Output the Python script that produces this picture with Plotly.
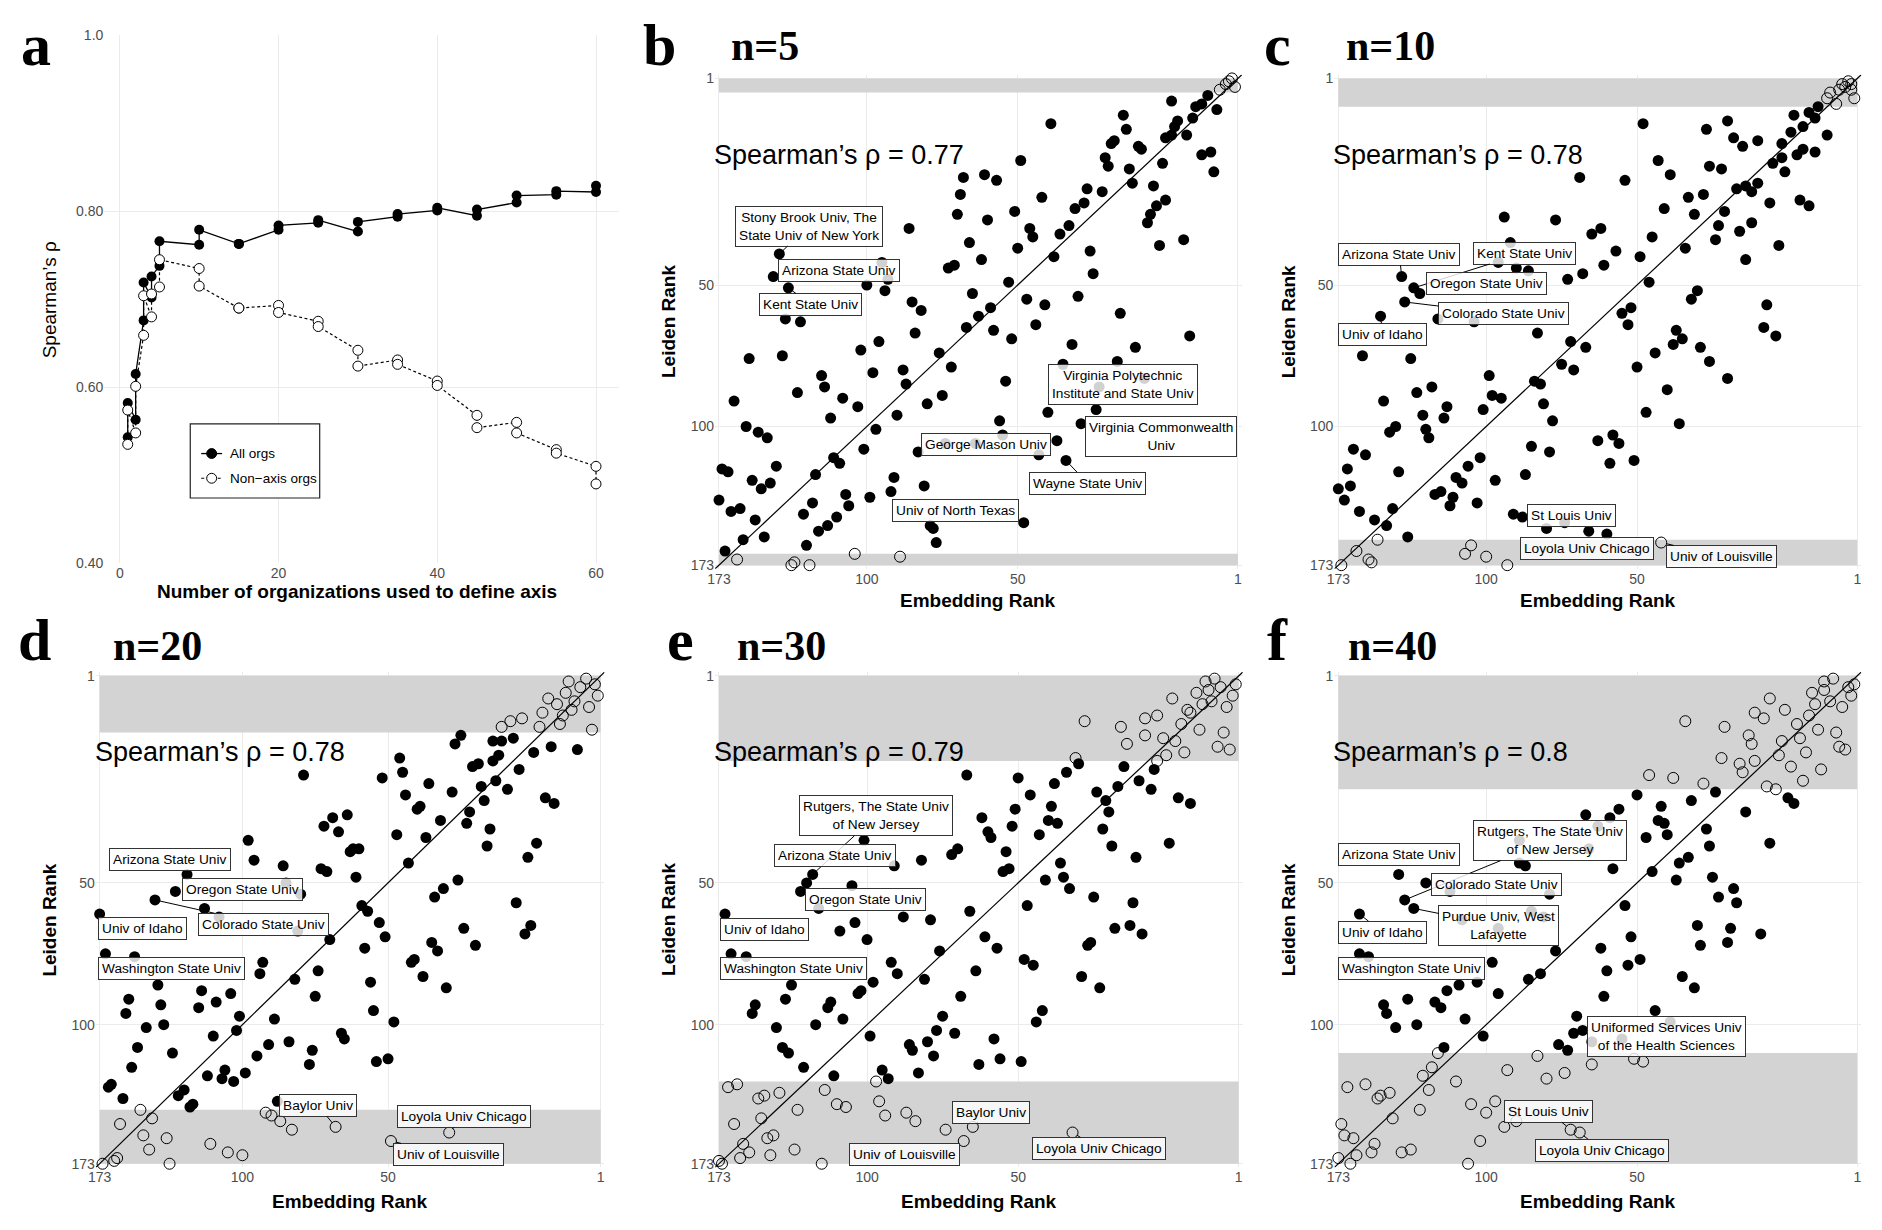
import plotly.graph_objects as go

W, H = 1882, 1230
OFF = 8                      # default page margin of the html body
FW, FH = W - OFF, H - OFF    # figure size so that the page is exactly the window
PAD = 1.3

# ---------------- panel a data ----------------
n_used = [1, 1, 2, 2, 3, 3, 4, 4, 5, 5, 10, 10, 15, 15, 20, 20, 25, 25, 30, 30,
          35, 35, 40, 40, 45, 45, 50, 50, 55, 55, 60, 60]
rho_all = [0.543, 0.582, 0.563, 0.615, 0.676, 0.719, 0.702, 0.726, 0.738, 0.766,
           0.762, 0.779, 0.763, 0.763, 0.779, 0.784, 0.787, 0.790, 0.777, 0.788,
           0.794, 0.797, 0.801, 0.804, 0.795, 0.802, 0.810, 0.818, 0.819, 0.823,
           0.822, 0.829]
rho_nonaxis = [0.535, 0.574, 0.548, 0.601, 0.659, 0.704, 0.680, 0.706, 0.714, 0.745,
               0.735, 0.715, 0.690, 0.690, 0.693, 0.685, 0.675, 0.669, 0.642, 0.624,
               0.631, 0.626, 0.607, 0.602, 0.568, 0.554, 0.560, 0.548, 0.529, 0.525,
               0.510, 0.490]
legend_names = ['All orgs', 'Non\u2212axis orgs']

# ---------------- scatter panels: (embedding rank, Leiden rank) ----------------
b_other = [(23,9),(11,7),(15,11),(13,10),(8,12),(39,14),(21,16),(16,15),(63,17),(38,19),
           (23,21),(22,18),(18,21),(25,22),(42,23),(43,24),(34,25),(33,26),(45,29),(44,32),
           (73,30),(13,28),(10,27),(9,34),(26,31),(37,33),(36,38),(29,39),(25,44),(28,46),
           (30,49),(31,52),(27,60),(19,58),(46,41),(51,40),(66,43),(52,45),(55,47),(57,53),
           (60,56),(62,64),(50,62),(49,70),(54,78),(70,54),(69,57),(74,61),(75,48),(92,36),
           (85,35),(81,37),(93,42),(94,49),(84,51),(110,54),(90,59),(86,65),(97,68),(95,67),
           (77,73),(89,77),(71,79),(65,81),(83,82),(87,85),(68,88),(82,90),(91,89),(76,93),
           (56,95),(40,84),(35,96),(17,92),(41,101),(59,102),(78,108),(100,98),(96,103),(108,91),
           (109,80),(106,83),(126,97),(120,94),(152,99),(163,100),(112,104),(111,109),(122,105),(139,106),
           (138,110),(147,112),(132,114),(127,117),(168,115),(136,121),(114,120),(104,116),(99,113),(64,119),
           (48,118),(80,122),(79,127),(53,123),(61,129),(58,136),(67,134),(88,130),(98,130),(107,133),
           (121,125),(125,132),(135,135),(133,137),(154,138),(164,124),(160,126),(157,128),(172,139),(170,140),
           (162,143),(159,146),(156,144),(141,141),(115,142),(116,147),(105,145),(123,149),(131,148),(130,152),
           (142,151),(145,155),(173,150),(169,154),(166,153),(161,157),(158,163),(165,164),(171,168),(144,166),
           (140,161),(137,159),(134,156),(103,159),(102,160),(101,165),(72,158),(153,63),(155,71),(150,75),
           (151,86),(146,87),(124,74),(119,66),(118,76),(117,72),(47,110),(32,107)]
b_axis = [(7,5),(5,3),(3,1),(2,4),(4,2),(167,171),(148,172),(149,173),(143,173),(128,169),(113,170)]

c_other = [(22,14),(17,13),(15,15),(14,11),(19,18),(23,20),(26,24),(11,21),(15,27),(19,26),
           (21,28),(26,29),(29,31),(25,34),(20,44),(17,46),(30,45),(34,23),(39,25),(42,22),
           (44,16),(51,19),(72,17),(67,30),(63,35),(50,32),(46,33),(41,40),(38,39),(36,41),
           (34,38),(52,42),(57,43),(65,47),(55,49),(45,48),(47,53),(48,58),(40,55),(36,52),
           (27,60),(38,65),(58,61),(69,57),(73,64),(70,73),(81,62),(85,67),(86,54),(89,56),
           (92,70),(97,72),(93,36),(78,37),(101,51),(118,50),(116,59),(120,66),(114,68),(110,69),
           (152,71),(148,75),(146,77),(151,80),(159,85),(140,86),(128,87),(107,91),(96,94),(91,96),
           (79,84),(76,82),(77,88),(61,90),(59,93),(62,95),(53,96),(56,79),(54,76),(31,81),
           (32,89),(28,92),(68,98),(74,103),(50,101),(44,107),(64,111),(71,119),(60,123),(99,102),
           (95,104),(108,108),(106,109),(105,116),(102,122),(109,131),(103,133),(111,141),(87,129),(82,127),
           (80,130),(83,137),(75,136),(123,106),(122,113),(119,114),(125,118),(126,135),(121,143),(130,138),
           (134,142),(132,144),(127,151),(135,149),(136,152),(139,147),(141,148),(165,99),(149,100),(147,112),
           (142,110),(158,115),(137,117),(138,121),(145,120),(144,125),(143,128),(154,124),(156,126),(168,132),
           (164,134),(170,139),(153,140),(169,145),(173,146),(171,150),(166,154),(161,157),(157,159),(155,153),
           (150,163),(115,155),(112,156),(104,160),(98,158),(90,161),(84,162)]
c_axis = [(4,2),(3,3),(6,3),(10,6),(7,5),(11,8),(8,10),(2,8),(3,5),(5,4),
          (172,173),(167,168),(163,171),(162,172),(160,164),(131,169),(129,166),(124,170),(117,173),(66,165)]

d_other = [(51,25),(49,22),(38,24),(35,24),(31,23),(24,28),(18,26),(9,27),(45,33),(43,32),
           (38,31),(36,29),(29,34),(37,38),(33,41),(42,40),(52,42),(41,45),(46,49),(47,53),
           (20,44),(17,46),(39,55),(40,61),(26,65),(23,60),(70,30),(69,35),(76,37),(68,43),
           (60,39),(64,48),(63,47),(56,52),(61,58),(71,57),(67,67),(50,73),(55,76),(58,79),
           (88,50),(93,51),(91,56),(96,54),(97,69),(95,70),(87,63),(86,62),(84,62),(85,72),
           (103,36),(110,68),(109,74),(104,78),(122,59),(120,66),(143,71),(147,77),(154,80),(137,83),
           (132,86),(173,85),(83,82),(81,84),(77,88),(75,93),(94,94),(82,97),(105,91),(171,99),
           (161,100),(59,95),(57,98),(48,90),(44,96),(30,81),(25,89),(27,92),(65,101),(66,102),
           (62,107),(54,111),(117,102),(118,106),(98,105),(106,108),(80,109),(153,110),(138,112),(128,113),
           (163,115),(152,117),(133,116),(99,114),(164,120),(139,118),(125,121),(113,122),(79,119),(72,123),
           (157,125),(151,124),(126,126),(134,128),(90,127),(89,129),(160,132),(115,131),(108,130),(100,133),
           (148,134),(119,135),(78,137),(74,136),(101,138),(162,139),(136,142),(130,140),(123,141),(131,143),
           (127,144),(170,146),(169,145),(165,150),(146,149),(144,147),(142,153),(141,152),(112,151)]
d_axis = [(6,2),(3,4),(12,3),(8,5),(13,7),(10,10),(19,9),(16,11),(11,13),(5,12),
          (2,8),(4,20),(15,18),(21,14),(14,15),(22,19),(28,16),(32,17),(35,19),
          (172,173),(168,172),(167,171),(159,154),(166,159),(158,163),(156,168),(155,157),(150,164),(149,173),
          (135,166),(129,169),(124,170),(116,155),(114,156),(111,158),(107,161),(92,160),(73,165),(53,162)]

e_other = [(54,32),(58,35),(62,39),(39,33),(29,34),(34,38),(30,41),(41,40),(48,42),(45,45),
           (44,49),(46,55),(43,61),(35,65),(24,60),(21,44),(17,46),(91,36),(74,37),(70,43),
           (63,47),(75,48),(64,52),(61,53),(76,54),(86,51),(84,56),(83,58),(67,57),(94,62),
           (96,64),(78,63),(60,67),(79,70),(77,69),(59,72),(65,73),(57,76),(106,66),(125,59),
           (115,68),(142,71),(144,74),(146,77),(129,75),(140,83),(112,86),(103,87),(90,84),(71,82),
           (49,79),(36,81),(42,90),(37,89),(33,92),(51,96),(50,95),(53,107),(47,111),(85,93),
           (81,97),(72,101),(69,103),(88,105),(100,98),(116,102),(114,106),(105,108),(93,114),(122,109),
           (126,112),(127,113),(171,85),(133,91),(128,88),(124,94),(169,99),(164,100),(149,110),(151,115),
           (161,117),(162,120),(154,125),(136,116),(137,118),(132,122),(141,124),(123,128),(99,121),(101,126),
           (95,127),(104,130),(110,131),(109,133),(82,129),(80,136),(87,138),(73,137),(68,123),(66,119),
           (102,135),(107,141),(119,140),(117,143),(135,142),(145,139),(152,132),(150,134)]
e_axis = [(9,2),(12,3),(11,6),(7,5),(2,4),(3,8),(15,7),(13,11),(10,10),(18,13),
          (17,14),(20,18),(23,9),(28,15),(32,16),(40,19),(52,17),(38,25),(32,22),(26,23),
          (22,24),(19,28),(25,29),(28,31),(14,20),(6,21),(8,26),(4,27),(5,12),(55,30),
          (173,172),(172,173),(170,146),(167,145),(168,159),(166,171),(165,166),(163,169),(160,150),(158,149),
          (159,157),(157,164),(155,163),(156,170),(153,148),(148,168),(147,154),(139,173),(138,147),(134,152),
          (131,153),(121,144),(120,151),(118,156),(111,155),(108,158),(98,161),(92,165),(89,160),(56,162)]

f_other = [(74,43),(80,48),(83,51),(91,50),(56,45),(48,42),(66,47),(67,52),(65,53),(71,58),
           (64,57),(51,55),(50,61),(57,65),(60,67),(61,73),(69,70),(82,69),(49,72),(47,79),
           (42,76),(41,81),(24,44),(22,46),(38,49),(30,60),(33,92),(44,95),(43,90),(54,89),
           (53,96),(59,107),(55,111),(78,82),(76,93),(73,101),(77,103),(86,97),(84,105),(85,114),
           (68,119),(94,121),(92,126),(95,127),(100,131),(97,133),(101,98),(106,106),(110,108),(120,113),
           (122,102),(127,109),(125,128),(138,132),(131,122),(133,110),(137,112),(139,118),(141,116),(150,115),
           (147,124),(154,125),(158,117),(157,120),(153,71),(151,80),(148,83),(144,74),(136,77),(166,85),
           (166,99),(163,100),(103,78),(111,68),(113,67),(63,123),(89,130),(79,129),(132,87),(120,90),
           (109,84),(105,86),(113,59),(90,62),(87,54)]
f_axis = [(9,2),(12,3),(12,6),(16,7),(10,10),(15,11),(6,12),(4,5),(2,4),(3,8),
          (30,9),(25,13),(35,14),(32,16),(17,15),(21,18),(20,23),(26,24),(14,20),(8,21),
          (7,26),(5,27),(18,28),(27,29),(23,33),(13,34),(19,38),(28,41),(31,40),(35,31),
          (40,32),(39,35),(46,30),(52,39),(45,19),(58,17),(37,22),(36,25),(70,36),(62,37),
          (172,159),(171,163),(168,164),(173,171),(169,173),(167,170),(170,146),(164,145),(162,169),(161,166),
          (160,150),(159,149),(156,148),(155,157),(152,169),(149,168),(146,154),(145,142),(143,147),(142,139),
          (140,134),(134,144),(130,173),(129,152),(126,165),(124,155),(121,151),(118,160),(117,140),(114,158),
          (107,135),(104,143),(98,141),(96,161),(93,162),(89,138),(75,136),(72,137)]

panel_keys = ['b', 'c', 'd', 'e', 'f']
n_axis_orgs = [5, 10, 20, 30, 40]
spearman_text = ['0.77', '0.78', '0.78', '0.79', '0.8']
other_pts = [b_other, c_other, d_other, e_other, f_other]
axis_pts = [b_axis, c_axis, d_axis, e_axis, f_axis]

rank_tick_pos = [1, 74, 124, 173]
rank_tick_text = ['1', '50', '100', '173']

# labels: text, label x, label y, point the leader line goes to (or None)
labels = {
    'b': [("Stony Brook Univ, The<br>State Univ of New York", 143.3, 53.2, (153, 63)),
          ("Arizona State Univ", 133.1, 69.0, None),
          ("Kent State Univ", 142.6, 80.9, (150, 75)),
          ("Virginia Polytechnic<br>Institute and State Univ", 39.2, 109.0, None),
          ("Virginia Commonwealth<br>Univ", 26.5, 127.5, None),
          ("George Mason Univ", 84.6, 130.5, None),
          ("Wayne State Univ", 50.9, 144.0, (58, 136)),
          ("Univ of North Texas", 94.7, 153.7, None)],
    'c': [("Arizona State Univ", 152.8, 63.1, (152, 71)),
          ("Kent State Univ", 111.2, 62.7, (148, 75)),
          ("Oregon State Univ", 123.8, 73.6, None),
          ("Colorado State Univ", 118.2, 84.2, (151, 80)),
          ("Univ of Idaho", 158.3, 91.5, (159, 85)),
          ("St Louis Univ", 95.6, 155.5, None),
          ("Loyola Univ Chicago", 90.5, 167.1, None),
          ("Univ of Louisville", 46.0, 169.9, (66, 165))],
    'd': [("Arizona State Univ", 148.7, 65.8, None),
          ("Oregon State Univ", 124.1, 76.4, None),
          ("Colorado State Univ", 116.7, 88.6, (154, 80)),
          ("Univ of Idaho", 158.2, 90.2, None),
          ("Washington State Univ", 148.4, 104.2, None),
          ("Baylor Univ", 98.1, 152.4, (92, 160)),
          ("Loyola Univ Chicago", 47.9, 156.3, (53, 162)),
          ("Univ of Louisville", 53.1, 169.7, (73, 165))],
    'e': [("Rutgers, The State Univ<br>of New Jersey", 121.0, 50.3, (142, 71)),
          ("Arizona State Univ", 134.6, 64.4, None),
          ("Oregon State Univ", 124.4, 79.8, None),
          ("Univ of Idaho", 158.1, 90.3, None),
          ("Washington State Univ", 148.4, 104.2, None),
          ("Baylor Univ", 83.0, 154.8, (89, 160)),
          ("Univ of Louisville", 111.7, 169.7, None),
          ("Loyola Univ Chicago", 47.4, 167.6, (56, 162))],
    'f': [("Arizona State Univ", 152.8, 64.0, None),
          ("Rutgers, The State Univ<br>of New Jersey", 103.0, 59.1, (151, 80)),
          ("Colorado State Univ", 120.6, 74.5, None),
          ("Purdue Univ, West<br>Lafayette", 119.8, 89.0, (148, 83)),
          ("Univ of Idaho", 158.3, 91.4, (166, 85)),
          ("Washington State Univ", 148.6, 104.2, None),
          ("Uniformed Services Univ<br>of the Health Sciences", 64.1, 128.3, None),
          ("St Louis Univ", 103.2, 154.5, (96, 161)),
          ("Loyola Univ Chicago", 85.7, 168.3, (93, 162))],
}

# ---------------- geometry (pixels in the 1882x1230 window) ----------------
# x of rank 173, x of rank 1, y of rank 1, y of rank 173
PANEL_PX = {
    'b': (714.0, 1235.2, 71.2, 564.0),
    'c': (1336.0, 1857.2, 71.2, 564.0),
    'd': (92.0, 595.2, 676.0, 1170.0),
    'e': (714.0, 1236.0, 676.0, 1170.0),
    'f': (1336.0, 1857.2, 676.0, 1170.0),
}
LETTER_SIZE = 60
LETTER_PX = {'a': (11, 59), 'b': (636, 59), 'c': (1259, 59), 'd': (8, 661), 'e': (660, 661), 'f': (1262, 661)}
TITLE_PX = {'b': (724, 54), 'c': (1342, 54), 'd': (103, 661), 'e': (730, 661), 'f': (1344, 661)}
YTITLE_X = {'b': 664, 'c': 1286, 'd': 42, 'e': 664, 'f': 1286}
XTITLE_Y = {'b': 600, 'c': 600, 'd': 1208, 'e': 1208, 'f': 1208}

GRID = '#ebebeb'
BAND = '#d3d3d3'
TICKFONT = dict(size=14, color='#4d4d4d')
SANS = 'Liberation Sans'
SERIF = 'Liberation Serif'


def px(x):
    return (x - OFF) / FW


def py(y):
    return 1 - (y - OFF) / FH


fig = go.Figure()
annotations = []
shapes = []
layout = dict(width=FW, height=FH, margin=dict(l=0, r=0, t=0, b=0),
              plot_bgcolor='white', paper_bgcolor='white',
              font=dict(family=SANS, color='black'),
              showlegend=False)

# ---------------- panel a ----------------
A_LEFT, A_RIGHT, A_TOP, A_BOTTOM = 96.7, 614.0, 27.3, 562.3
layout['xaxis'] = dict(domain=[px(A_LEFT), px(A_RIGHT)], range=[-1.95, 62.95],
                       tickvals=[0, 20, 40, 60], showgrid=True, gridcolor=GRID, gridwidth=1.2,
                       zeroline=False, showline=False, ticks='', tickfont=TICKFONT,
                       anchor='y', fixedrange=True)
layout['yaxis'] = dict(domain=[py(A_BOTTOM), py(A_TOP)], range=[0.3995, 1.0005],
                       tickvals=[0.4, 0.6, 0.8, 1.0], ticktext=['0.40', '0.60', '0.80', '1.0'],
                       showgrid=True, gridcolor=GRID, gridwidth=1.2, zeroline=False,
                       showline=False, ticks='', tickfont=TICKFONT, anchor='x', fixedrange=True)

LINE_ALL = dict(color='black', width=1.3)
LINE_NON = dict(color='black', width=1.2, dash='3px,2.5px')
fig.add_trace(go.Scatter(x=n_used, y=rho_all, mode='lines+markers', name=legend_names[0],
                         line=LINE_ALL, marker=dict(size=10, color='black'),
                         xaxis='x', yaxis='y', cliponaxis=False))
fig.add_trace(go.Scatter(x=n_used, y=rho_nonaxis, mode='lines+markers', name=legend_names[1],
                         line=LINE_NON,
                         marker=dict(size=10, color='white', line=dict(color='black', width=1)),
                         xaxis='x', yaxis='y', cliponaxis=False))

# legend box of panel a (drawn by hand to match the boxed ggplot legend)
LG = dict(left=183, right=313, top=421, bottom=496, rows=[451, 476],
          line_x=(194, 215), mark_x=204.5, text_x=221, r=5)
shapes.append(dict(type='rect', xref='paper', yref='paper', x0=px(LG['left']), x1=px(LG['right']),
                   y0=py(LG['bottom']), y1=py(LG['top']), line=dict(color='#222222', width=1.2),
                   fillcolor='white', layer='above'))
for k, ry in enumerate(LG['rows']):
    ln = LINE_ALL if k == 0 else LINE_NON
    shapes.append(dict(type='line', xref='paper', yref='paper', x0=px(LG['line_x'][0]),
                       x1=px(LG['line_x'][1]), y0=py(ry), y1=py(ry), line=ln, layer='above'))
    shapes.append(dict(type='circle', xref='paper', yref='paper',
                       x0=px(LG['mark_x'] - LG['r']), x1=px(LG['mark_x'] + LG['r']),
                       y0=py(ry + LG['r']), y1=py(ry - LG['r']),
                       fillcolor='black' if k == 0 else 'white',
                       line=dict(color='black', width=1), layer='above'))
    annotations.append(dict(xref='paper', yref='paper', x=px(LG['text_x']), y=py(ry),
                            text=legend_names[k], showarrow=False, xanchor='left', yanchor='middle',
                            font=dict(size=13.5)))

annotations.append(dict(xref='paper', yref='paper', x=px(42), y=py(295),
                        text='Spearman\u2019s \u03c1', textangle=-90, showarrow=False,
                        font=dict(size=19), xanchor='center', yanchor='middle'))
annotations.append(dict(xref='paper', yref='paper', x=px(350), y=py(591),
                        text='<b>Number of organizations used to define axis</b>', showarrow=False,
                        font=dict(size=19), xanchor='center', yanchor='middle'))

# ---------------- scatter panels ----------------
lim = [173 + PAD, 1 - PAD]
for i, key in enumerate(panel_keys):
    ax = i + 2
    xr, yr = f'x{ax}', f'y{ax}'
    x173, x1, y1, y173 = PANEL_PX[key]
    sx = (x1 - x173) / 172.0
    sy = (y173 - y1) / 172.0
    left, right = x173 - PAD * sx, x1 + PAD * sx
    top, bottom = y1 - PAD * sy, y173 + PAD * sy
    common = dict(range=lim, tickvals=rank_tick_pos, ticktext=rank_tick_text,
                  showgrid=True, gridcolor=GRID, gridwidth=1.2, zeroline=False,
                  showline=False, ticks='', tickfont=TICKFONT, fixedrange=True)
    layout[f'xaxis{ax}'] = dict(domain=[px(left), px(right)], anchor=yr, **common)
    layout[f'yaxis{ax}'] = dict(domain=[py(bottom), py(top)], anchor=xr, **common)

    n = n_axis_orgs[i]
    shapes.append(dict(type='rect', xref=xr, yref=yr, x0=1, x1=173, y0=1, y1=n + 1,
                       fillcolor=BAND, line=dict(width=0), layer='between'))
    shapes.append(dict(type='rect', xref=xr, yref=yr, x0=1, x1=173, y0=174 - n, y1=173,
                       fillcolor=BAND, line=dict(width=0), layer='between'))

    fig.add_trace(go.Scatter(x=lim, y=lim, mode='lines', line=dict(color='black', width=1.2),
                             xaxis=xr, yaxis=yr, hoverinfo='skip'))
    oth = other_pts[i]
    fig.add_trace(go.Scatter(x=[p[0] for p in oth], y=[p[1] for p in oth], mode='markers',
                             marker=dict(size=11, color='black'), xaxis=xr, yaxis=yr,
                             cliponaxis=False))
    axp = axis_pts[i]
    fig.add_trace(go.Scatter(x=[p[0] for p in axp], y=[p[1] for p in axp], mode='markers',
                             marker=dict(size=11, symbol='circle-open', color='black',
                                         line=dict(width=1)),
                             xaxis=xr, yaxis=yr, cliponaxis=False))

    annotations.append(dict(xref='paper', yref=yr, x=px(left - 3), y=28,
                            text=f'Spearman\u2019s \u03c1 = {spearman_text[i]}',
                            showarrow=False, xanchor='left', yanchor='middle',
                            font=dict(size=27, color='black')))

    for text, lx, ly, tip in labels[key]:
        base = dict(text=text, bgcolor='rgba(255,255,255,0.82)', bordercolor='#333333',
                    borderwidth=1, borderpad=3, font=dict(size=13.7, color='black'), align='center')
        if tip is None:
            base.update(xref=xr, yref=yr, x=lx, y=ly, showarrow=False)
        else:
            base.update(xref=xr, yref=yr, x=tip[0], y=tip[1], axref=xr, ayref=yr,
                        ax=lx, ay=ly, showarrow=True, arrowhead=0, arrowwidth=1,
                        arrowcolor='black', standoff=5)
        annotations.append(base)

    annotations.append(dict(xref='paper', yref='paper', x=px(YTITLE_X[key]),
                            y=py((top + bottom) / 2), text='<b>Leiden Rank</b>', textangle=-90,
                            showarrow=False, font=dict(size=19), xanchor='center', yanchor='middle'))
    annotations.append(dict(xref='paper', yref='paper', x=px((left + right) / 2),
                            y=py(XTITLE_Y[key]), text='<b>Embedding Rank</b>',
                            showarrow=False, font=dict(size=19), xanchor='center', yanchor='middle'))

    tx, tb = TITLE_PX[key]
    annotations.append(dict(xref='paper', yref='paper', x=px(tx), y=py(tb + 0.216 * 42 + 1),
                            text=f'<b>n={n}</b>', showarrow=False, xanchor='left', yanchor='bottom',
                            font=dict(size=42, family=SERIF, color='black')))

for key, (lx, lb) in LETTER_PX.items():
    annotations.append(dict(xref='paper', yref='paper', x=px(lx),
                            y=py(lb + 0.216 * LETTER_SIZE + 1),
                            text=f'<b>{key}</b>', showarrow=False, xanchor='left', yanchor='bottom',
                            font=dict(size=LETTER_SIZE, family=SERIF, color='black')))

layout['annotations'] = annotations
layout['shapes'] = shapes
fig.update_layout(**layout)
fig.write_html('out.html')
